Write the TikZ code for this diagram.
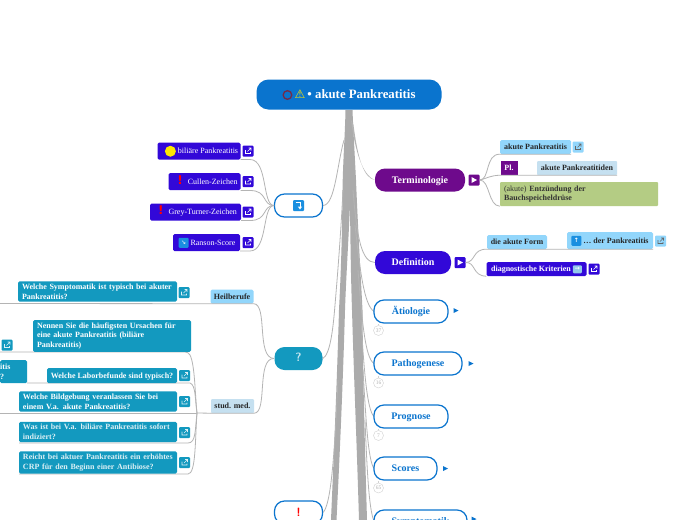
\documentclass[tikz,border=0pt]{standalone}
\usepackage{fontspec}
\setmainfont{Liberation Serif}
\newfontfamily\symfont{DejaVu Sans}
\usetikzlibrary{calc}
\definecolor{mainblue}{HTML}{0A74CE}
\definecolor{violet}{HTML}{3208D8}
\definecolor{purp}{HTML}{6E0A8C}
\definecolor{teal}{HTML}{1399BF}
\definecolor{lblue}{HTML}{92D6FB}
\definecolor{pblue}{HTML}{C5E0F0}
\definecolor{lgreen}{HTML}{B4CC84}
\definecolor{wire}{HTML}{B4B4B4}
\definecolor{trunk}{HTML}{ABABAB}
\definecolor{iconblue}{HTML}{1A8FE0}
\tikzset{
 base/.style={font=\fontsize{8}{9.7}\selectfont\bfseries,inner sep=0pt,anchor=center,align=left},
 one/.style={text height=5.5pt,text depth=0pt},
 rootbox/.style={base,fill=mainblue,text=white,rounded corners=12pt,minimum width=185pt,minimum height=30pt,font=\fontsize{12.8}{14}\selectfont\bfseries,text height=8pt,text depth=0pt},
 main/.style={base,rounded corners=10pt,minimum height=23pt,font=\fontsize{10}{11}\selectfont\bfseries,align=center,text height=6.5pt,text depth=0pt},
 outl/.style={main,draw=mainblue,line width=1.2pt,fill=white,text=mainblue},
 fillm/.style={main,text=white},
 vio/.style={base,one,fill=violet,text=white,rounded corners=1.5pt,minimum height=17pt,font=\fontsize{8}{9.5}\selectfont},
 tealb/.style={base,fill=teal,text=white,rounded corners=1.5pt},
 lb/.style={base,one,fill=lblue,text=black!85,rounded corners=1.5pt,minimum height=14pt},
 pb/.style={base,one,fill=pblue,text=black!85,rounded corners=1pt,minimum height=14pt},
 ico/.style={rounded corners=1pt,minimum width=11pt,minimum height=11pt,inner sep=0pt},
 wirel/.style={draw=wire,line width=.8pt},
 cnt/.style={circle,draw=black!18,fill=white,text=black!30,minimum size=10pt,inner sep=0pt,font=\fontsize{5.5}{6}\selectfont},
 stub/.style={draw=black!18,line width=.6pt},
 link/.pic={\path[pic actions,line width=.55pt] (-2.5,-1) -- (-2.5,2.5) -- (2.5,2.5) -- (2.5,1) (-.5,.5) -- (3,-3) (.5,-3) -- (3,-3) -- (3,-.5);}
}
\newcommand{\linkico}[4]{\node[ico,fill=#3] (#1) at (#2) {}; \pic[draw=#4] at (#1) {link};}
\newcommand{\righttri}[2]{\fill[mainblue] (#1-2.5,#2-2.5) -- (#1+2.5,#2) -- (#1-2.5,#2+2.5) -- cycle;}
\newcommand{\redmark}{\textcolor{red}{\fontsize{12}{12}\selectfont\symfont\bfseries !}}
\begin{document}
\begin{tikzpicture}[x=1pt,y=-1pt]
\useasboundingbox (0,0) rectangle (697,520);
\fill[white] (0,0) rectangle (697,520);
% trunk
\fill[trunk] (345.5,110) -- (352.5,110) .. controls (353,125) and (354.5,150) .. (356,180) .. controls (358,230) and (361,280) .. (362.5,310) .. controls (363,380) and (365,450) .. (367,520) -- (359,520) .. controls (357,450) and (354,380) .. (352,310) .. controls (351,280) and (350.5,250) .. (350,205) .. controls (348,250) and (346,280) .. (345,310) .. controls (343,380) and (340,450) .. (336.5,520) -- (331,520) .. controls (334,450) and (337,380) .. (339,310) .. controls (341,270) and (342,240) .. (342.5,190) .. controls (343,160) and (345,135) .. (345.5,110) -- cycle;
% root
\node[rootbox] (root) at (349,94.5) {\tikz[baseline=-3.5pt]\draw[red!55!mainblue!80!black,line width=1.3pt] (0,0) circle (4.3pt);\,{\symfont\fontsize{12}{12}\selectfont\color{yellow!85!orange}\char"26A0}\,• akute Pankreatitis};
% Left upper group
\node[outl,minimum width=48pt] (arr) at (298.5,205.5) {};
\node[ico,fill=iconblue,minimum width=11pt] (arri) at (298.5,205.5) {};
\draw[white,line width=1pt] (295.5,202.5) -- (300,202.5) -- (300,207.5);
\fill[white] (297.8,206.5) -- (302.2,206.5) -- (300,209.5) -- cycle;
\node[vio,minimum width=83pt] (b1) at (199,151) {\hspace*{5pt}\tikz[baseline=-2.5pt]\fill[yellow!90!orange] (0,0) circle (5.5pt);\ biliäre Pankreatitis};
\node[vio,minimum width=72pt] (b2) at (204.5,181.5) {\hspace*{6pt}\redmark\hspace{5pt}Cullen-Zeichen};
\node[vio,minimum width=91pt] (b3) at (195.5,212) {\hspace*{4pt}\redmark\hspace{5pt}Grey-Turner-Zeichen};
\node[vio,minimum width=67pt] (b4) at (206.5,242.5) {\hspace*{1pt}\tikz[baseline=-2.5pt]\node[ico,fill=iconblue,minimum width=10pt,minimum height=10pt]{\color{white}\fontsize{6}{6}\selectfont\symfont ↘};\ Ranson-Score};
\linkico{l1}{248,151}{violet}{white}
\linkico{l2}{248,181.5}{violet}{white}
\linkico{l3}{248,212}{violet}{white}
\linkico{l4}{248,242.5}{violet}{white}
\coordinate (aw) at (274,205.5);
\foreach \y/\n in {159.5/b1,190.5/b2,220.5/b3,251/b4}{
 \draw[wirel] (aw) .. controls (262,205.5) and (268,\y) .. (250,\y) -- (\n.south east |- 0,\y);
}
\draw[wirel] (arr.east) .. controls (335,205) and (337,165) .. (344,140);
% Terminologie
\node[fillm,fill=purp,minimum width=90pt] (term) at (420,180) {Terminologie};
\node[ico,fill=purp] (tt) at (474,180) {};
\fill[white] (471.5,177) -- (477,180) -- (471.5,183) -- cycle;
\fill[trunk!90!white] (351,120) .. controls (355,150) and (362,175) .. (term.west) .. controls (364,178) and (358,160) .. (353.5,125) -- cycle;
\node[lb,minimum width=71pt] (t1) at (535.5,147) {akute Pankreatitis};
\linkico{t1l}{578,147}{lblue}{black!60}
\node[base,one,fill=purp,text=white,minimum width=17pt,minimum height=14pt] (pl) at (509,168) {Pl.};
\node[pb,minimum width=80pt] (t2) at (577,168) {akute Pankreatitiden};
\node[base,fill=lgreen,text=black!80,rounded corners=1pt,text width=150pt,inner xsep=4pt,minimum height=24pt] (t3) at (579,194) {{\mdseries (akute)} Entzündung der\\Bauchspeicheldrüse};
\draw[wirel] (tt.east) .. controls (490,180) and (485,154) .. (t1.south west) -- (t1.south east);
\draw[wirel] (tt.east) .. controls (488,178) and (490,175.5) .. (pl.south west) -- (t2.south east);
\draw[wirel] (tt.east) .. controls (490,180) and (488,206) .. (t3.south west);
% Definition
\node[fillm,fill=violet,minimum width=76pt] (defn) at (413,262.5) {Definition};
\node[ico,fill=violet] (dt) at (460,262.5) {};
\fill[white] (457.5,259.5) -- (463,262.5) -- (457.5,265.5) -- cycle;
\draw[wirel] (353,190) .. controls (357,240) and (362,262) .. (defn.west);
\node[lb,minimum width=60pt] (d1) at (517,242) {die akute Form};
\node[lb,minimum width=86pt,minimum height=17pt] (d2) at (610,240.5) {\tikz[baseline=-2.5pt]\node[ico,fill=iconblue,minimum width=10pt,minimum height=10pt]{\color{white}\fontsize{6}{6}\selectfont\symfont ↑};\ \dots{} der Pankreatitis};
\linkico{d2l}{660.5,241}{lblue}{black!60}
\node[vio,minimum width=100pt,minimum height=14pt,font=\fontsize{8}{9.5}\selectfont\bfseries] (d3) at (536.5,269) {diagnostische Kriterien \tikz[baseline=-2.5pt]\node[ico,fill=pblue!70!iconblue,minimum width=9pt,minimum height=8pt]{\color{white}\fontsize{6}{6}\selectfont\symfont →};};
\linkico{d3l}{594,269}{violet}{white}
\draw[wirel] (dt.east) .. controls (476,262) and (472,249) .. (d1.south west) -- (d2.south east);
\draw[wirel] (dt.east) .. controls (476,262) and (472,276) .. (d3.south west);
% right outlines
\draw[wirel] (355,225) .. controls (360,270) and (364,305) .. (374,311.5);
\draw[wirel] (358,270) .. controls (362,320) and (365,358) .. (374,363.5);
\draw[wirel] (361,320) .. controls (364,370) and (367,410) .. (374,416.5);
\draw[wirel] (363,370) .. controls (366,420) and (368,460) .. (374,468.5);
\draw[wirel] (365,420) .. controls (367,470) and (369,510) .. (374,521);
\node[outl,minimum width=74pt] (aet) at (411,311.5) {Ätiologie};
\node[outl,minimum width=88pt] (pat) at (418,363.5) {Pathogenese};
\node[outl,minimum width=74pt] (prog) at (411,416.5) {Prognose};
\node[outl,minimum width=63pt] (sco) at (405.5,468.5) {Scores};
\node[outl,minimum width=93pt] (sym) at (420.5,521.5) {Symptomatik};
\righttri{456}{310.5}
\righttri{471}{363.5}
\righttri{445.5}{468.5}
\righttri{474}{519}
\node[cnt] (c1) at (378.5,330.5) {37};
\node[cnt] (c2) at (378.5,383) {16};
\node[cnt] (c3) at (378.5,435.5) {7};
\node[cnt] (c4) at (378.5,488) {65};
\foreach \c/\b in {c1/aet,c2/pat,c3/prog,c4/sco}{\draw[stub] (\c.north) -- (\c.north |- \b.south);}
% Question
\node[fillm,fill=teal,minimum width=48pt,font=\fontsize{12}{12}\selectfont\bfseries\sffamily,text=white!75!teal] (q) at (298.5,358.5) {?};
\draw[wirel] (q.east) .. controls (330,355) and (333,330) .. (335,305) .. controls (338,270) and (341,230) .. (343,190);
\node[lb,minimum width=43pt] (hb) at (232,296.5) {Heilberufe};
\node[pb,minimum width=43pt] (st) at (232.5,406) {stud. med.};
\coordinate (qw) at (274,358.5);
\draw[wirel] (qw) .. controls (256,358) and (268,304) .. (hb.south east) -- (hb.south west) -- (0,303.5);
\draw[wirel] (qw) .. controls (256,358) and (268,413) .. (st.south east) -- (st.south west);
\node[tealb,text width=151pt,inner xsep=4pt,inner ysep=2.5pt] (q1) at (97.5,291.5) {Welche Symptomatik ist typisch bei akuter\\Pankreatitis?};
\linkico{q1l}{184,292.5}{teal}{white!85!teal}
\draw[wirel] (st.south west) -- (196,413);
\draw[wirel] (197,413) .. controls (195,395) and (195,365) .. (190,355) .. controls (189,353) and (187,352) .. (185,352) -- (0,352);
\draw[wirel] (197,413) .. controls (195,400) and (196,385) .. (190,383) -- (27,383);
\draw[wirel] (197,413) -- (0,413);
\draw[wirel] (197,413) .. controls (195,430) and (196,443) .. (188,443) -- (19,443);
\draw[wirel] (197,413) .. controls (195,440) and (196,474) .. (188,474) -- (19,474);
\node[tealb,text width=150pt,inner xsep=4pt,inner ysep=2.5pt] (q2) at (112,336) {Nennen Sie die häufigsten Ursachen für\\eine akute Pankreatitis (biliäre\\Pankreatitis)};
\linkico{q2l}{7,345}{teal}{white!85!teal}
\node[tealb,one,minimum width=130pt,minimum height=15pt] (q3) at (112,375.5) {Welche Laborbefunde sind typisch?};
\linkico{q3l}{184.5,375.5}{teal}{white!85!teal}
\node[tealb,anchor=north west,text width=27pt,minimum height=23pt] (q3b) at (0,360) {itis\\?};
\node[tealb,text width=150pt,inner xsep=4pt,inner ysep=2.5pt] (q4) at (98,401.5) {Welche Bildgebung veranlassen Sie bei\\einem V.a. akute Pankreatitis?};
\linkico{q4l}{184.5,401.5}{teal}{white!85!teal}
\node[tealb,text width=150pt,inner xsep=4pt,inner ysep=2.5pt,text=white!85!teal] (q5) at (98,432) {Was ist bei V.a. biliäre Pankreatitis sofort\\indiziert?};
\linkico{q5l}{184.5,432.5}{teal}{white!85!teal}
\node[tealb,text width=150pt,inner xsep=4pt,inner ysep=2.5pt,text=white!85!teal] (q6) at (98,462.5) {Reicht bei aktuer Pankreatitis ein erhöhtes\\CRP für den Beginn einer Antibiose?};
\linkico{q6l}{184.5,462.5}{teal}{white!85!teal}
% Exclamation
\node[outl,minimum width=48pt,text=red,font=\fontsize{12}{12}\selectfont\bfseries\sffamily,text height=8pt] (ex) at (298.5,512.5) {!};
\draw[wirel] (ex.east) .. controls (330,505) and (333,470) .. (336,420) -- (338,380);
\end{tikzpicture}
\end{document}
